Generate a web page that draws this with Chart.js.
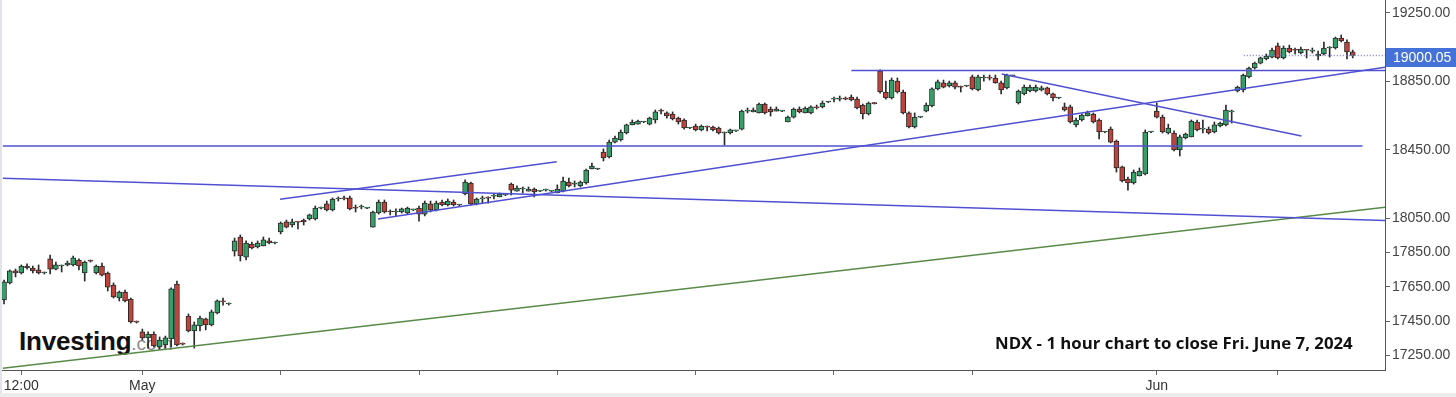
<!DOCTYPE html>
<html>
<head>
<meta charset="utf-8">
<script src="https://cdn.jsdelivr.net/npm/chart.js@4.4.1/dist/chart.umd.min.js"></script>
<style>
  html, body { margin: 0; padding: 0; background: #fff; }
  #wrap { position: relative; width: 1456px; height: 397px; overflow: hidden; }
  #edgeLeft { position: absolute; left: 0; top: 0; width: 2px; height: 397px; background: #e3e3ea; }
  #edgeBottom { position: absolute; left: 0; top: 393px; width: 1456px; height: 4px; background: #ececec; }
  #logo { position: absolute; left: 19px; top: 326px; line-height: 26px; white-space: nowrap; z-index: 0; }
  #logo .big { font: bold 26px "Liberation Sans", Arial, sans-serif; color: #111; letter-spacing: -0.2px; }
  #logo .small { font: 19px "Liberation Sans", Arial, sans-serif; color: #8c8c8c; }
  #note { position: absolute; left: 995px; top: 333px; font: bold 16.8px "Open Sans", "Liberation Sans", sans-serif; line-height: 20px; color: #111; white-space: nowrap; z-index: 2; }
  #c { position: absolute; left: 0; top: 0; z-index: 1; }
</style>
</head>
<body>
<div id="wrap">
  <div id="edgeLeft"></div>
  <div id="edgeBottom"></div>
  <div id="logo"><span class="big">Investing</span><span class="small">.com</span></div>
  <canvas id="c" width="1456" height="397"></canvas>
  <div id="note">NDX - 1 hour chart to close Fri. June 7, 2024</div>
</div>
<script>
// hourly candles (index 0 = first candle on the left)
var opens = [17574,17673,17743,17731,17772,17760,17749,17731,17813,17754,
  17772,17778,17778,17807,17731,17801,17731,17772,17731,17661,
  17585,17620,17579,17445,17387,17352,17375,17299,17311,17346,
  17667,17317,17480,17393,17422,17463,17428,17498,17568,17550,
  17859,17941,17824,17900,17883,17889,17918,17906,17970,18029,
  18011,18029,18040,18046,18046,18110,18134,18099,18163,18169,
  18169,18110,18116,18110,17999,18081,18145,18093,18087,18087,
  18081,18099,18110,18075,18134,18099,18145,18128,18145,18128,
  18192,18256,18134,18163,18169,18180,18175,18186,18250,18209,
  18221,18209,18221,18209,18215,18209,18198,18209,18262,18250,
  18239,18256,18338,18338,18437,18408,18495,18507,18548,18595,
  18600,18612,18600,18624,18676,18665,18659,18635,18624,18577,
  18589,18566,18583,18583,18577,18548,18548,18560,18571,18676,
  18671,18665,18717,18688,18676,18676,18612,18641,18688,18665,
  18665,18700,18700,18729,18746,18746,18752,18758,18746,18711,
  18659,18723,18910,18787,18752,18851,18787,18665,18583,18641,
  18676,18706,18805,18840,18822,18840,18816,18822,18875,18799,
  18869,18869,18869,18840,18811,18881,18723,18776,18793,18793,
  18799,18811,18776,18752,18700,18700,18595,18624,18647,18659,
  18624,18554,18571,18501,18350,18279,18256,18297,18309,18554,
  18676,18641,18548,18548,18449,18519,18525,18612,18571,18571,
  18554,18589,18595,18671,18793,18799,18875,18927,18956,18980,
  18991,19056,18986,19044,19032,19015,19032,19026,18997,19009,
  19044,19044,19102,19079,19021];

var highs = [17690,17749,17754,17778,17784,17772,17778,17737,17836,17795,
  17778,17801,17830,17813,17801,17807,17778,17789,17737,17673,
  17626,17632,17585,17451,17404,17387,17387,17358,17363,17644,
  17684,17323,17492,17445,17480,17468,17515,17574,17585,17556,
  17935,17953,17918,17912,17918,17941,17935,17912,18029,18040,
  18046,18031,18046,18075,18122,18116,18151,18169,18175,18180,
  18180,18128,18128,18114,18093,18157,18157,18099,18105,18110,
  18116,18103,18122,18151,18151,18151,18157,18163,18157,18132,
  18274,18262,18169,18180,18175,18192,18198,18190,18256,18239,
  18233,18233,18227,18213,18221,18213,18245,18291,18285,18268,
  18268,18338,18373,18342,18455,18507,18530,18566,18600,18624,
  18624,18616,18641,18682,18688,18671,18671,18641,18630,18581,
  18600,18595,18589,18589,18583,18554,18571,18564,18682,18694,
  18694,18723,18723,18700,18700,18680,18647,18694,18700,18700,
  18706,18711,18735,18733,18758,18764,18758,18770,18758,18717,
  18729,18726,18916,18851,18869,18869,18799,18671,18665,18645,
  18723,18811,18857,18857,18851,18851,18822,18826,18886,18886,
  18886,18886,18886,18851,18892,18885,18799,18828,18828,18828,
  18822,18816,18781,18756,18723,18711,18635,18659,18676,18665,
  18630,18558,18583,18507,18355,18291,18332,18344,18566,18558,
  18723,18653,18600,18560,18536,18548,18624,18624,18624,18583,
  18612,18612,18711,18682,18822,18892,18933,18962,18991,19009,
  19044,19073,19056,19061,19044,19050,19034,19044,19026,19079,
  19052,19108,19120,19091,19032];

var lows = [17550,17667,17708,17725,17754,17731,17725,17725,17725,17749,
  17737,17772,17772,17749,17684,17795,17725,17714,17626,17585,
  17568,17562,17439,17439,17340,17293,17299,17288,17293,17299,
  17305,17311,17387,17293,17393,17399,17422,17492,17544,17544,
  17830,17801,17807,17871,17877,17889,17900,17900,17959,17994,
  17999,17988,18011,18040,18040,18105,18093,18093,18151,18157,
  18099,18087,18105,18106,17999,18075,18081,18070,18064,18081,
  18075,18095,18034,18064,18087,18093,18122,18122,18122,18124,
  18186,18128,18128,18139,18139,18163,18175,18182,18186,18209,
  18198,18209,18175,18205,18209,18205,18198,18204,18233,18233,
  18233,18250,18338,18334,18385,18402,18490,18501,18542,18595,
  18600,18608,18595,18606,18659,18635,18624,18600,18571,18573,
  18560,18560,18560,18560,18542,18478,18542,18556,18566,18665,
  18671,18665,18659,18647,18676,18672,18612,18635,18665,18665,
  18659,18688,18694,18725,18729,18735,18741,18735,18688,18630,
  18653,18717,18781,18746,18746,18781,18659,18577,18577,18637,
  18671,18700,18799,18811,18816,18805,18787,18818,18799,18793,
  18851,18857,18838,18776,18805,18877,18717,18770,18787,18787,
  18793,18770,18735,18748,18676,18606,18583,18618,18647,18606,
  18513,18550,18490,18320,18262,18215,18250,18297,18303,18550,
  18635,18548,18542,18443,18414,18513,18525,18560,18548,18542,
  18548,18583,18589,18606,18787,18787,18869,18921,18951,18974,
  18986,18980,18980,19015,19009,19009,18986,19015,18974,19003,
  18991,19038,19079,18980,18986];

var closes = [17679,17743,17731,17772,17760,17743,17731,17733,17754,17778,
  17773,17789,17819,17772,17795,17800,17772,17719,17649,17591,
  17620,17568,17445,17444,17352,17375,17305,17340,17352,17638,
  17311,17316,17393,17428,17468,17428,17504,17568,17562,17551,
  17918,17830,17906,17877,17906,17924,17906,17907,18023,17999,
  18029,18028,18029,18070,18110,18111,18099,18163,18164,18163,
  18105,18109,18117,18110,18087,18145,18087,18087,18093,18105,
  18110,18099,18075,18139,18099,18139,18128,18151,18128,18128,
  18262,18134,18163,18169,18168,18181,18192,18187,18215,18227,
  18222,18221,18204,18209,18216,18210,18221,18268,18239,18256,
  18262,18332,18355,18339,18402,18495,18519,18554,18595,18612,
  18618,18613,18635,18671,18675,18647,18630,18612,18577,18577,
  18566,18589,18582,18566,18548,18553,18566,18560,18676,18677,
  18682,18717,18665,18671,18688,18677,18641,18688,18671,18694,
  18700,18694,18723,18729,18747,18752,18746,18741,18694,18659,
  18723,18719,18787,18752,18857,18787,18665,18583,18641,18641,
  18711,18805,18846,18816,18840,18816,18815,18822,18805,18875,
  18870,18868,18840,18799,18886,18881,18793,18816,18816,18816,
  18811,18776,18752,18752,18682,18612,18624,18653,18665,18612,
  18554,18554,18495,18344,18268,18256,18320,18326,18554,18555,
  18641,18554,18577,18449,18525,18542,18618,18566,18572,18548,
  18595,18606,18682,18672,18816,18886,18927,18956,18986,18997,
  19032,18986,19044,19021,19031,19038,19031,19032,19009,19044,
  19050,19102,19085,19021,19000.05];

// axis ticks
var yTicks = [17250, 17450, 17650, 17850, 18050, 18450, 18850, 19250];
var xTickIdx = [3, 24, 48, 72, 96, 120, 144, 168, 200, 221];
var xTickLabels = ['12:00', 'May', '', '', '', '', '', '', 'Jun', ''];

// drawn lines: [candle index, price] end points
var levelLow = [[-0.2, 18472], [235.7, 18472]];
var levelHigh = [[147.0, 18912], [239.6, 18912]];
var longDown = [[-0.2, 18284], [239.6, 18037]];
var longUp = [[64.9, 18046], [239.6, 18931]];
var channelTop = [[47.9, 18161], [95.9, 18380]];
var peakDown = [[173.1, 18892], [225.1, 18530]];
var greenTrend = [[-0.2, 17175], [239.6, 18114]];

var lastClose = closes[closes.length - 1];
var lastLine = [[215.1, lastClose], [239.6, lastClose]];

var upColor = '#34a067';
var downColor = '#c0433b';
var lineBlue = '#5050d2';

Chart.defaults.font.family = '"Liberation Sans", Arial, sans-serif';
Chart.defaults.color = '#444';

function toPoints(seg) {
    return seg.map(function(p) { return {x: p[0], y: p[1]}; });
}

function lineSet(seg, color, dash) {
    return {
        type: 'line',
        data: toPoints(seg),
        borderColor: color,
        borderWidth: 1.5,
        borderDash: dash || [],
        pointRadius: 0,
        fill: false,
        order: 0
    };
}

var wickData = opens.map(function(o, i) { return {x: i, y: [lows[i], highs[i]]}; });
var bodyData = opens.map(function(o, i) { return {x: i, y: [o, closes[i]]}; });
var bodyColors = opens.map(function(o, i) { return closes[i] >= o ? upColor : downColor; });

var priceTag = {
    id: 'priceTag',
    afterDraw: function(chart) {
        var ctx = chart.ctx;
        var area = chart.chartArea;
        var y = Math.round(chart.scales.y.getPixelForValue(lastClose));
        ctx.save();
        ctx.fillStyle = '#4472d8';
        ctx.fillRect(area.right + 1, y - 8, 71, 19);
        ctx.fillStyle = '#fff';
        ctx.font = '14px "Liberation Sans", Arial, sans-serif';
        ctx.textBaseline = 'middle';
        ctx.fillText(lastClose.toFixed(2), area.right + 8, y + 2);
        ctx.restore();
    }
};

new Chart(document.getElementById('c'), {
    type: 'bar',
    data: {
        datasets: [
            lineSet(levelLow, lineBlue),
            lineSet(levelHigh, lineBlue),
            lineSet(longDown, lineBlue),
            lineSet(longUp, lineBlue),
            lineSet(channelTop, lineBlue),
            lineSet(peakDown, lineBlue),
            lineSet(greenTrend, '#5a8a4a'),
            lineSet(lastLine, '#7f7fd4', [1, 2]),
            {
                data: bodyData,
                backgroundColor: bodyColors,
                borderColor: '#2a2a2a',
                borderWidth: 1,
                borderSkipped: false,
                barThickness: 5,
                minBarLength: 1,
                grouped: false,
                order: 1
            },
            {
                data: wickData,
                backgroundColor: '#2a2a2a',
                borderWidth: 0,
                barThickness: 1,
                grouped: false,
                order: 2
            }
        ]
    },
    options: {
        responsive: false,
        animation: false,
        layout: { padding: { left: 2, top: 0, right: 0, bottom: 0 } },
        plugins: { legend: { display: false }, tooltip: { enabled: false } },
        scales: {
            x: {
                type: 'linear',
                min: -0.35,
                max: 239.6,
                offset: false,
                afterFit: function(scale) {
                    scale.height = 27;
                    scale.paddingLeft = 0;
                    scale.paddingRight = 0;
                },
                afterBuildTicks: function(axis) {
                    axis.ticks = xTickIdx.map(function(v) { return {value: v}; });
                },
                grid: { drawOnChartArea: false, drawTicks: true, tickLength: 5, color: '#666', offset: false },
                border: { display: true, color: '#555', width: 1 },
                ticks: {
                    autoSkip: false,
                    maxRotation: 0,
                    padding: 3,
                    color: '#333',
                    font: { size: 14 },
                    callback: function(value) {
                        var k = xTickIdx.indexOf(value);
                        return k >= 0 ? xTickLabels[k] : '';
                    }
                }
            },
            y: {
                position: 'right',
                min: 17165,
                max: 19324,
                afterFit: function(scale) {
                    scale.width = 71;
                    scale.paddingTop = 0;
                    scale.paddingBottom = 0;
                },
                afterBuildTicks: function(axis) {
                    axis.ticks = yTicks.map(function(v) { return {value: v}; });
                },
                grid: { drawOnChartArea: false, drawTicks: true, tickLength: 5, color: '#666' },
                border: { display: true, color: '#555', width: 1 },
                ticks: {
                    padding: 2,
                    color: '#444',
                    font: { size: 14 },
                    callback: function(value) { return Number(value).toFixed(2); }
                }
            }
        }
    },
    plugins: [priceTag]
});
</script>
</body>
</html>
